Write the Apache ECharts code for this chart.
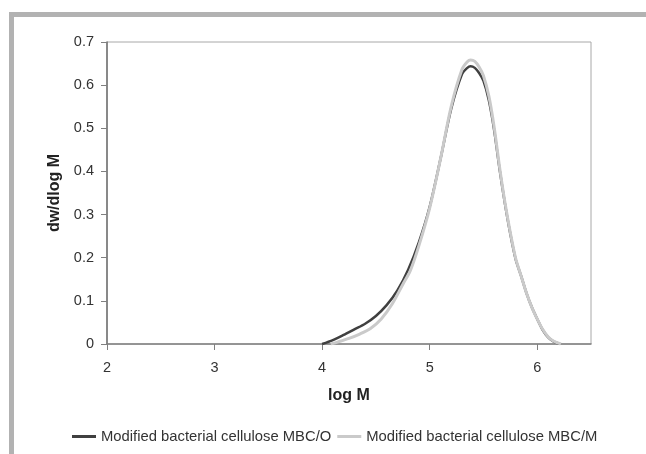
<!DOCTYPE html>
<html>
<head>
<meta charset="utf-8">
<script src="https://cdn.jsdelivr.net/npm/echarts@6/dist/echarts.min.js"></script>
<style>
  html, body { margin: 0; padding: 0; background: #fff; }
  #main { width: 646px; height: 454px; }
</style>
</head>
<body>
<div id="main"></div>
<script>
var seriesNames = ['Modified bacterial cellulose MBC/O', 'Modified bacterial cellulose MBC/M'];
var xTicks = [2, 3, 4, 5, 6];

// MBC/O (dark)
var logM_O = [4.00, 4.10, 4.20, 4.30, 4.40, 4.50, 4.60, 4.70, 4.80, 4.90, 5.00, 5.10, 5.20, 5.30, 5.35, 5.38, 5.42, 5.46, 5.50, 5.55, 5.60, 5.65, 5.70, 5.75, 5.80, 5.85, 5.90, 5.95, 6.00, 6.05, 6.10, 6.15, 6.21];
var dw_O = [0, 0.009, 0.021, 0.034, 0.047, 0.065, 0.090, 0.124, 0.172, 0.236, 0.318, 0.428, 0.545, 0.625, 0.640, 0.644, 0.640, 0.628, 0.610, 0.565, 0.495, 0.405, 0.325, 0.255, 0.196, 0.158, 0.118, 0.085, 0.058, 0.033, 0.016, 0.006, 0];

// MBC/M (light)
var logM_M = [4.08, 4.15, 4.25, 4.35, 4.45, 4.55, 4.65, 4.75, 4.82, 4.90, 5.00, 5.10, 5.20, 5.30, 5.35, 5.38, 5.42, 5.46, 5.50, 5.55, 5.60, 5.65, 5.70, 5.75, 5.80, 5.85, 5.90, 5.95, 6.00, 6.05, 6.10, 6.15, 6.22];
var dw_M = [0, 0.005, 0.013, 0.023, 0.036, 0.058, 0.092, 0.138, 0.170, 0.228, 0.315, 0.428, 0.550, 0.636, 0.654, 0.658, 0.655, 0.642, 0.622, 0.575, 0.502, 0.410, 0.328, 0.258, 0.198, 0.158, 0.118, 0.085, 0.058, 0.034, 0.017, 0.007, 0];

function pairs(xs, ys) {
    return xs.map(function (x, i) { return [x, ys[i]]; });
}

var myChart = echarts.init(document.getElementById('main'));
var font = 'Liberation Sans, Arial, sans-serif';

var option = {
    animation: false,
    backgroundColor: '#fff',
    graphic: [{
        type: 'rect',
        shape: { x: 11.5, y: 14.5, width: 700, height: 500 },
        style: { fill: 'none', stroke: '#b2b2b2', lineWidth: 5 },
        silent: true
    }],
    grid: {
        left: 107,
        right: 55,
        top: 42,
        bottom: 110,
        show: true,
        borderColor: '#a8a8a8',
        borderWidth: 1
    },
    legend: {
        data: seriesNames,
        left: 67,
        top: 424,
        itemWidth: 24,
        itemHeight: 3,
        itemGap: 6,
        icon: 'rect',
        textStyle: { fontFamily: font, fontSize: 14.8, color: '#333' }
    },
    xAxis: {
        type: 'value',
        min: 2,
        max: 6.5,
        interval: 1,
        name: 'log M',
        nameLocation: 'middle',
        nameGap: 44,
        nameTextStyle: { fontFamily: font, fontSize: 16, fontWeight: 'bold', color: '#222' },
        splitLine: { show: false },
        axisLine: { lineStyle: { color: '#808080', width: 1.5 } },
        axisTick: { show: true, length: 6, customValues: xTicks, lineStyle: { color: '#808080' } },
        axisLabel: { customValues: xTicks, margin: 16, fontFamily: font, fontSize: 14.5, color: '#333' }
    },
    yAxis: {
        type: 'value',
        min: 0,
        max: 0.7,
        interval: 0.1,
        name: 'dw/dlog M',
        nameLocation: 'middle',
        nameRotate: 90,
        nameGap: 43,
        nameTextStyle: { fontFamily: font, fontSize: 16, fontWeight: 'bold', color: '#222' },
        splitLine: { show: false },
        axisLine: { show: true, lineStyle: { color: '#707070', width: 1.5 } },
        axisTick: { show: true, length: 6, lineStyle: { color: '#808080' } },
        axisLabel: {
            margin: 13,
            fontFamily: font,
            fontSize: 14.5,
            color: '#333',
            formatter: function (v) { return String(Math.round(v * 10) / 10); }
        }
    },
    series: [
        {
            name: seriesNames[0],
            type: 'line',
            data: pairs(logM_O, dw_O),
            showSymbol: false,
            smooth: 0.3,
            color: '#404040',
            lineStyle: { color: '#404040', width: 2.5 }
        },
        {
            name: seriesNames[1],
            type: 'line',
            data: pairs(logM_M, dw_M),
            showSymbol: false,
            smooth: 0.3,
            color: '#cacaca',
            lineStyle: { color: '#cacaca', width: 3 }
        }
    ]
};

myChart.setOption(option);
</script>
</body>
</html>
